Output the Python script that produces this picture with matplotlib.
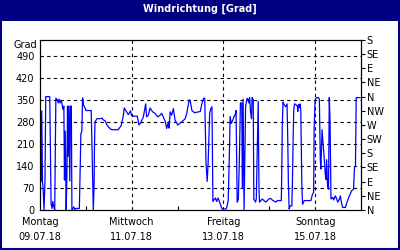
import numpy as np
import matplotlib.pyplot as plt
from matplotlib.patches import Rectangle

# Windrichtung, Stunden ab Montag 09.07.18 00:00
hours = [0.2, 0.4, 0.9, 1.3, 1.6, 2.1, 2.6, 3.0, 5.1, 5.5, 5.8, 6.3, 6.7, 7.2, 7.7,
         8.3, 9.1, 9.5, 10.0, 10.5, 11.1, 11.6, 11.9, 12.5, 12.8, 13.2, 13.7, 14.1,
         14.4, 14.7, 15.1, 15.6, 15.9, 16.4, 16.7, 17.2, 17.7, 18.3, 18.8, 19.8,
         20.6, 20.9, 21.4, 21.9, 22.3, 22.7, 23.5, 24.1, 26.8, 27.4, 27.6, 27.9,
         28.3, 28.5, 28.8, 29.8, 31.4, 32.5, 33.0, 34.1, 35.1, 36.7, 37.7, 40.9,
         42.5, 43.6, 44.1, 45.3, 46.2, 47.4, 47.9, 48.8, 50.9, 51.8, 52.8, 54.1,
         55.3, 55.8, 56.7, 57.6, 58.9, 60.2, 61.6, 62.8, 63.7, 65.5, 66.3, 67.2,
         67.6, 68.1, 68.9, 69.8, 70.7, 72.1, 74.2, 76.0, 76.8, 78.1, 78.6, 79.5,
         80.9, 83.9, 84.7, 85.6, 86.2, 86.9, 87.5, 88.0, 88.8, 89.3, 90.0, 90.5,
         91.8, 92.5, 93.2, 94.4, 95.3, 97.4, 97.9, 98.5, 99.2, 99.5, 100.1, 100.9,
         101.4, 102.3, 102.6, 103.2, 103.8, 104.3, 104.9, 105.6, 105.9, 106.3,
         106.8, 107.6, 108.4, 108.9, 109.3, 109.7, 110.2, 110.7, 111.0, 111.6,
         111.9, 112.8, 113.2, 113.7, 114.2, 114.6, 114.9, 116.3, 118.1, 119.8,
         120.7, 121.9, 123.4, 124.2, 126.3, 126.5, 126.8, 127.2, 127.7, 128.6,
         129.3, 129.7, 130.0, 130.4, 130.9, 131.8, 132.1, 132.5, 132.8, 133.2,
         133.9, 134.7, 134.9, 135.3, 136.0, 136.2, 136.5, 137.0, 137.4, 138.3,
         141.8, 142.6, 143.2, 143.5, 144.0, 144.7, 145.8, 146.2, 146.7, 147.0,
         147.6, 147.9, 148.3, 148.8, 149.3, 149.7, 150.0, 150.5, 151.0, 151.4,
         151.8, 152.3, 153.2, 153.7, 154.6, 155.3, 155.8, 156.7, 157.2, 157.7,
         158.4, 159.8, 160.7, 161.9, 163.2, 164.1, 164.6, 165.1, 165.5, 167.5]
grad = [242, 90, 315, 90, 70, 0, 90, 360, 360, 180, 20, 5, 27, 10, 0,
        355, 350, 340, 352, 340, 348, 335, 320, 330, 95, 250, 0, 120,
        330, 170, 330, 92, 330, 330, 0, 5, 10, 0, 5, 5,
        5, 90, 242, 250, 356, 335, 325, 316, 316, 140, 80, 0,
        80, 200, 280, 290, 290, 292, 287, 283, 270, 258, 255, 255,
        268, 300, 324, 312, 303, 315, 300, 298, 298, 270, 278, 296,
        337, 296, 301, 324, 312, 307, 296, 301, 307, 282, 259, 280,
        260, 312, 301, 322, 285, 270, 280, 290, 307, 350, 348, 316,
        309, 313, 337, 355, 355, 150, 91, 150, 307, 320, 328, 27,
        38, 27, 38, 18, 3, 3, 12, 30, 200, 297, 275, 285,
        295, 305, 316, 25, 33, 150, 340, 340, 70, 352,
        0, 330, 355, 352, 340, 357, 312, 290, 357, 350,
        35, 25, 35, 190, 345, 68, 25, 35, 25, 35,
        37, 30, 25, 30, 30, 108, 268, 343, 335, 328,
        337, 213, 82, 3, 13, 13, 87, 233, 316, 337,
        335, 330, 313, 335, 325, 337, 313, 92, 18, 30,
        30, 50, 55, 268, 350, 357, 357, 352, 160, 130,
        255, 233, 200, 160, 113, 97, 160, 76, 66, 357,
        280, 35, 40, 32, 45, 35, 25, 35, 45, 25,
        8, 8, 25, 45, 62, 66, 135, 140, 357, 357]

left_ticks = [0, 70, 140, 210, 280, 350, 420, 490]
right_ticks = [0, 45, 90, 135, 180, 225, 270, 315, 360, 405, 450, 495, 540]
right_labels = ['N', 'NE', 'E', 'SE', 'S', 'SW', 'W', 'NW', 'N', 'NE', 'E', 'SE', 'S']
day_ticks = [0, 48, 96, 144]
day_labels = ['Montag\n09.07.18', 'Mittwoch\n11.07.18', 'Freitag\n13.07.18', 'Sonntag\n15.07.18']

navy = '#000080'
plt.rcParams['font.family'] = 'DejaVu Sans'

fig = plt.figure(figsize=(4, 2.5), dpi=100)
fig.patch.set_facecolor('white')
fig.add_artist(Rectangle((0, 0.916), 1, 0.084, transform=fig.transFigure,
                         facecolor=navy, edgecolor='none'))
fig.add_artist(Rectangle((0.002, 0.004), 0.995, 0.99, transform=fig.transFigure,
                         facecolor='none', edgecolor=navy, linewidth=1.5))
fig.text(0.5, 0.963, 'Windrichtung [Grad]', color='white', fontsize=7,
         fontweight='bold', ha='center', va='center')

ax = fig.add_axes([0.1, 0.16, 0.8025, 0.68])
ax.plot(hours, grad, color='#0000ff', linewidth=0.9)
ax.set_xlim(0, 168)
ax.set_ylim(0, 540)

ax.set_yticks(left_ticks)
ax.tick_params(axis='y', length=0, labelsize=7, pad=4)
ax.set_xticks(day_ticks)
ax.set_xticklabels(day_labels, linespacing=1.6)
ax.set_xticks([24, 72, 120], minor=True)
ax.tick_params(axis='x', which='major', length=0, labelsize=7, pad=5)
ax.tick_params(axis='x', which='minor', direction='in', length=3, width=0.8)
for v in left_ticks[1:]:
    ax.axhline(v, color='black', linestyle=(0, (3, 3)), linewidth=0.8, zorder=0)
for d in day_ticks[1:]:
    ax.axvline(d, color='black', linestyle=(0, (3, 3)), linewidth=0.8, zorder=0)
ax.text(-0.01, 1.0, 'Grad', transform=ax.transAxes, ha='right', va='top', fontsize=7)

ax2 = ax.twinx()
ax2.set_ylim(0, 540)
ax2.set_yticks(right_ticks)
ax2.set_yticklabels(right_labels)
ax2.tick_params(axis='y', length=3, labelsize=7, pad=1)

for a in (ax, ax2):
    for s in a.spines.values():
        s.set_linewidth(0.8)

fig.savefig('out.png', dpi=100)
